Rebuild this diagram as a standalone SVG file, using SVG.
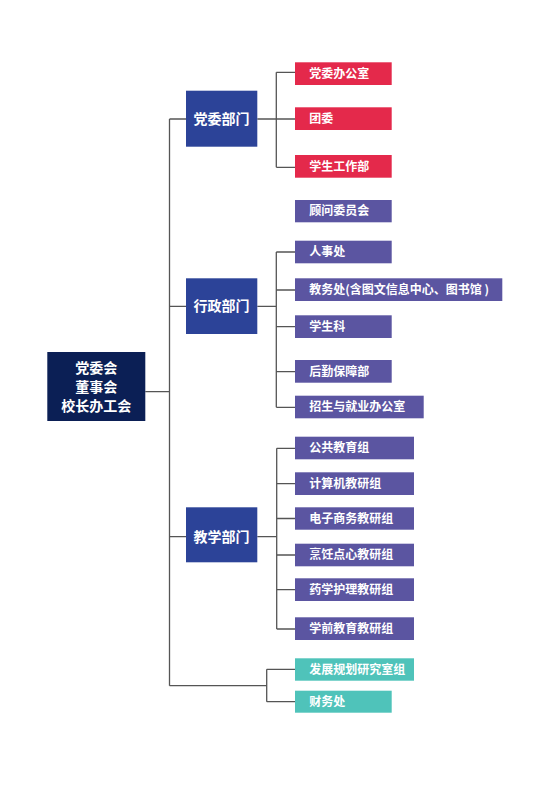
<svg xmlns="http://www.w3.org/2000/svg" width="550" height="787" viewBox="0 0 550 787">
<style>
text{font-family:"Noto Sans CJK SC","Noto Sans",sans-serif;fill:#fff;font-weight:bold}
.root{fill:#0b1f55}
.dept{fill:#2c4398}
.red{fill:#e4294b}
.pur{fill:#5b55a1}
.teal{fill:#4fc3ba}
.t14{font-size:14px;text-anchor:middle}
.t12{font-size:12px}
.ln{fill:none;stroke:#555;stroke-width:1.3}
</style>
<rect width="550" height="787" fill="#fff"/>
<g id="connectors" class="ln">
<path d="M145.3 391.7H169.5M169.5 119V685.7"/>
<path d="M169.5 119H186M169.5 306.3H186M169.5 536.7H186"/>
<path d="M257.3 119H276.3M276.3 72.3V167.3M276.3 72.3H295M276.3 119H295M276.3 167.3H295"/>
<path d="M257.3 306.3H276.3M276.3 252V407.3M276.3 252H295M276.3 290H295M276.3 326.7H295M276.3 371.7H295M276.3 407.3H295"/>
<path d="M257.3 536.7H276.7M276.7 448.3V629M276.7 448.3H295M276.7 483.7H295M276.7 518.5H295M276.7 555H295M276.7 589.7H295M276.7 629H295"/>
<path d="M169.5 685.7H266.7M266.7 669.3V701.7M266.7 669.3H295M266.7 701.7H295"/>
</g>
<g id="root"><rect class="root" x="47.3" y="352" width="98" height="69"/><text class="t14" x="96.3" y="373">党委会</text><text class="t14" x="96.3" y="391.5">董事会</text><text class="t14" x="96.3" y="411">校长办工会</text></g>
<g id="dept1"><rect class="dept" x="186" y="90.7" width="71.3" height="56"/><text class="t14" x="221.6" y="124">党委部门</text></g>
<g id="dept2"><rect class="dept" x="186" y="278.3" width="71.3" height="55.7"/><text class="t14" x="221.6" y="311">行政部门</text></g>
<g id="dept3"><rect class="dept" x="186" y="507.3" width="71.3" height="55"/><text class="t14" x="221.6" y="541.5">教学部门</text></g>
<g id="n1"><rect class="red" x="295" y="62.3" width="96.7" height="22.7"/><text class="t12" x="309.3" y="77.9">党委办公室</text></g>
<g id="n2"><rect class="red" x="295" y="107.3" width="96.7" height="22.7"/><text class="t12" x="309.3" y="122.9">团委</text></g>
<g id="n3"><rect class="red" x="295" y="155" width="96.7" height="22.7"/><text class="t12" x="309.3" y="170.6">学生工作部</text></g>
<g id="n4"><rect class="pur" x="295" y="200" width="96.7" height="22.3"/><text class="t12" x="309.3" y="215.4">顾问委员会</text></g>
<g id="n5"><rect class="pur" x="295" y="240.7" width="96.7" height="22.6"/><text class="t12" x="309.3" y="256.2">人事处</text></g>
<g id="n6"><rect class="pur" x="295" y="278.3" width="207.3" height="22.7"/><text class="t12" x="309.3" y="293.9">教务处(含图文信息中心、图书馆 )</text></g>
<g id="n7"><rect class="pur" x="295" y="315.3" width="96.7" height="22.7"/><text class="t12" x="309.3" y="330.9">学生科</text></g>
<g id="n8"><rect class="pur" x="295" y="360" width="96.7" height="22.7"/><text class="t12" x="309.3" y="375.6">后勤保障部</text></g>
<g id="n9"><rect class="pur" x="295" y="395.7" width="128.7" height="22.6"/><text class="t12" x="309.3" y="411.2">招生与就业办公室</text></g>
<g id="n10"><rect class="pur" x="295" y="436.7" width="119" height="22.6"/><text class="t12" x="309.3" y="452.2">公共教育组</text></g>
<g id="n11"><rect class="pur" x="295" y="472.3" width="119" height="22.7"/><text class="t12" x="309.3" y="487.9">计算机教研组</text></g>
<g id="n12"><rect class="pur" x="295" y="507.3" width="119" height="22.4"/><text class="t12" x="309.3" y="522.7">电子商务教研组</text></g>
<g id="n13"><rect class="pur" x="295" y="543.7" width="119" height="22.6"/><text class="t12" x="309.3" y="559.2">烹饪点心教研组</text></g>
<g id="n14"><rect class="pur" x="295" y="578.3" width="119" height="22.7"/><text class="t12" x="309.3" y="593.9">药学护理教研组</text></g>
<g id="n15"><rect class="pur" x="295" y="617.3" width="119" height="22.7"/><text class="t12" x="309.3" y="632.9">学前教育教研组</text></g>
<g id="n16"><rect class="teal" x="295" y="658.3" width="119" height="22.4"/><text class="t12" x="309.3" y="673.7">发展规划研究室组</text></g>
<g id="n17"><rect class="teal" x="295" y="690.7" width="96.7" height="22"/><text class="t12" x="309.3" y="705.9">财务处</text></g>
</svg>
